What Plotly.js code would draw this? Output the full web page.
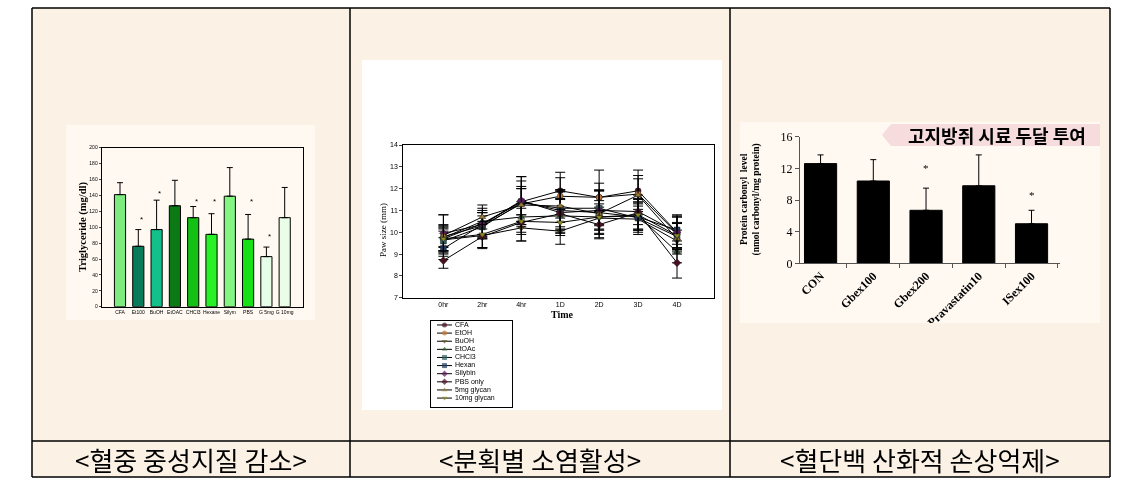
<!DOCTYPE html>
<html><head><meta charset="utf-8">
<script src="https://cdn.plot.ly/plotly-3.0.1.min.js"></script>
<style>html,body{margin:0;padding:0;background:#fff;}#chart{width:1143px;height:481px;}
.main-svg{will-change:transform;}</style>
</head><body><div id="chart"></div>
<script>
// ---------- Panel 1: triglyceride ----------
const tgGroups = ['CFA','Et100','BuOH','EtOAC','CHCl3','Hexane','Silym','PBS','G 5mg','G 10mg'];
const tgMean = [141, 76, 97, 127, 112, 91, 139, 85, 63, 112];
const tgErr = [15, 21, 37, 32, 14, 26, 36, 31, 12, 38];
const tgColors = ['#7DEB7D','#087B5A','#13C08A','#0B7A14','#13C113','#27F127','#82F582','#17E017','#E6FDE8','#EAFDE6'];
const tgStarGroups = ['Et100','BuOH','CHCl3','Hexane','PBS','G 5mg'];
const tgStarY = [110, 143, 132, 132, 132, 88];
const tgTicks = [0,20,40,60,80,100,120,140,160,180,200];

// ---------- Panel 2: paw size ----------
const timeLabels = ['0hr','2hr','4hr','1D','2D','3D','4D'];
const pawNames = ['CFA','EtOH','BuOH','EtOAc','CHCl3','Hexan','Silybin','PBS only','5mg glycan','10mg glycan'];
const pawCFA     = [9.7, 10.4, 11.4, 11.9, 11.6, 11.9, 10.0];
const pawEtOH    = [9.8, 10.3, 11.3, 11.65, 11.6, 11.75, 9.95];
const pawBuOH    = [9.65, 9.85, 10.2, 10.05, 10.65, 10.6, 9.6];
const pawEtOAc   = [9.75, 10.5, 10.7, 10.75, 10.7, 10.75, 9.1];
const pawCHCl3   = [9.6, 10.25, 11.35, 11.1, 11.1, 10.65, 9.8];
const pawHexan   = [9.25, 10.35, 11.4, 11.0, 10.9, 10.7, 10.1];
const pawSilybin = [9.95, 10.35, 11.45, 10.9, 11.0, 10.95, 10.0];
const pawPBS     = [8.7, 9.8, 10.45, 10.85, 10.35, 10.9, 8.6];
const paw5mg     = [9.85, 10.7, 11.25, 11.2, 10.85, 11.7, 9.7];
const paw10mg    = [9.7, 9.9, 10.5, 10.45, 10.7, 10.8, 9.85];
const errCFA     = [0.35, 0.5, 0.6, 0.85, 0.65, 0.95, 0.8];
const errEtOH    = [0.5, 0.6, 0.8, 0.85, 1.25, 0.7, 0.75];
const errBuOH    = [0.5, 0.55, 0.6, 0.6, 0.5, 0.7, 0.5];
const errEtOAc   = [0.6, 0.6, 0.7, 0.75, 0.6, 0.6, 0.5];
const errCHCl3   = [0.6, 0.5, 1.0, 0.85, 0.8, 0.55, 0.6];
const errHexan   = [0.5, 0.65, 1.15, 0.9, 1.0, 0.7, 0.65];
const errSilybin = [0.85, 0.55, 1.1, 0.95, 0.9, 0.6, 0.7];
const errPBS     = [0.35, 0.55, 0.85, 0.7, 0.65, 0.8, 0.7];
const err5mg     = [0.95, 0.55, 0.75, 0.75, 1.1, 0.9, 0.7];
const err10mg    = [0.55, 0.6, 0.6, 0.6, 0.75, 0.7, 0.6];
const pawValues = [pawCFA,pawEtOH,pawBuOH,pawEtOAc,pawCHCl3,pawHexan,pawSilybin,pawPBS,paw5mg,paw10mg];
const pawErrors = [errCFA,errEtOH,errBuOH,errEtOAc,errCHCl3,errHexan,errSilybin,errPBS,err5mg,err10mg];
const pawSymbols = ['circle','circle','triangle-down','triangle-up','square','square','diamond','diamond','triangle-up','triangle-down'];
const pawColors = ['#4a1020','#c07838','#6a5a28','#2a5a2a','#2f5f5f','#1f3a5f','#5a1a5a','#4a1020','#9a7a30','#8a8a20'];
const pawTicks = [7,8,9,10,11,12,13,14];

// ---------- Panel 3: protein carbonyl ----------
const pcGroups = ['CON','Gbex100','Gbex200','Pravastatin10','ISex100'];
const pcMean = [12.6, 10.4, 6.7, 9.8, 5.0];
const pcErr = [1.1, 2.7, 2.8, 3.9, 1.7];
const pcStarGroups = ['Gbex200','ISex100'];
const pcStarY = [12.1, 8.6];
const pcTicks = [0,4,8,12,16];

// ---------- captions ----------
const captions = ['<혈중 중성지질 감소>','<분획별 소염활성>','<혈단백 산화적 손상억제>'];
const bannerText = '고지방쥐 시료 두달 투여';

// ---------- layout helpers (pixel -> paper) ----------
const W = 1143, H = 481;
const X = p => p / W;
const Y = p => 1 - p / H;
const cream = '#FBF2E5';
const serif = 'Liberation Serif, Times New Roman, serif';
const sans = 'Liberation Sans, Arial, sans-serif';
const kr = 'Noto Sans CJK KR, sans-serif';

const traces = [];
traces.push({
  type:'bar', x: tgGroups, y: tgMean, xaxis:'x', yaxis:'y', showlegend:false,
  marker:{color: tgColors, line:{color:'#000', width:1}},
  error_y:{type:'data', symmetric:false, array: tgErr, arrayminus: tgErr.map(()=>0), color:'#000', thickness:1, width:3},
  hoverinfo:'skip'
});
pawNames.forEach((n,i)=>{
  traces.push({
    type:'scatter', mode:'lines+markers', x: timeLabels, y: pawValues[i], xaxis:'x2', yaxis:'y2', name:n, showlegend:false,
    line:{color:'#000', width:1},
    marker:{symbol: pawSymbols[i], color: pawColors[i], size:6, line:{color:'#222', width:0.5}},
    error_y:{type:'data', array: pawErrors[i], color:'#000', thickness:1, width:5},
    hoverinfo:'skip'
  });
});
pawNames.forEach((n,i)=>{
  traces.push({
    type:'scatter', mode:'lines+markers', x:[6,13.5,21], y:[i,i,i], xaxis:'x4', yaxis:'y4', showlegend:false,
    line:{color:'#000', width:1},
    marker:{symbol: pawSymbols[i], color: pawColors[i], size:[0,5,0], line:{width:0}},
    hoverinfo:'skip'
  });
});
traces.push({
  type:'scatter', mode:'text', x: pawNames.map(()=>24), y: pawNames.map((_,i)=>i), text: pawNames,
  textposition:'middle right', textfont:{family:sans, size:7, color:'#000'},
  xaxis:'x4', yaxis:'y4', showlegend:false, hoverinfo:'skip'
});
traces.push({
  type:'bar', x: pcGroups, y: pcMean, xaxis:'x3', yaxis:'y3', showlegend:false,
  marker:{color:'#000', line:{color:'#000', width:1}},
  error_y:{type:'data', symmetric:false, array: pcErr, arrayminus: pcErr.map(()=>0), color:'#000', thickness:1, width:3},
  hoverinfo:'skip'
});

const shapes = [
  {type:'rect', xref:'paper', yref:'paper', x0:X(32), x1:X(1110), y0:Y(477), y1:Y(8), fillcolor:cream, line:{width:0}, layer:'below'},
  {type:'rect', xref:'paper', yref:'paper', x0:X(66), x1:X(315), y0:Y(320), y1:Y(125), fillcolor:'#FFF9F2', line:{width:0}, layer:'below'},
  {type:'rect', xref:'paper', yref:'paper', x0:X(362), x1:X(722), y0:Y(410), y1:Y(60), fillcolor:'#FFFFFF', line:{width:0}, layer:'below'},
  {type:'rect', xref:'paper', yref:'paper', x0:X(740), x1:X(1100), y0:Y(323), y1:Y(122), fillcolor:'#FFF9F2', line:{width:0}, layer:'below'},
  {type:'path', xref:'paper', yref:'paper', layer:'below', fillcolor:'#F6DCDC', line:{width:0},
   path:`M ${X(882)} ${Y(135)} L ${X(891)} ${Y(124)} L ${X(1100)} ${Y(124)} L ${X(1100)} ${Y(146)} L ${X(891)} ${Y(146)} Z`},
  {type:'rect', xref:'paper', yref:'paper', x0:X(733), x1:X(1108), y0:Y(440), y1:Y(323), fillcolor:cream, line:{width:0}, layer:'above'},
];
const lineStyle = {color:'#000', width:1.5};
[[32,8,1110,8],[32,441,1110,441],[32,477,1110,477],[32,8,32,477],[350,8,350,477],[730,8,730,477],[1110,8,1110,477]].forEach(l=>{
  shapes.push({type:'line', xref:'paper', yref:'paper', x0:X(l[0]), y0:Y(l[1]), x1:X(l[2]), y1:Y(l[3]), line:lineStyle, layer:'above'});
});

const annotations = [];
[191, 540, 920].forEach((cx,i)=>{
  annotations.push({xref:'paper', yref:'paper', x:X(cx), y:Y(459), text: captions[i], showarrow:false,
    font:{family:kr, size:26, color:'#000'}, xanchor:'center', yanchor:'middle'});
});
annotations.push({xref:'paper', yref:'paper', x:X(75), y:Y(227), text:'<b>Triglyceride (mg/dl)</b>', textangle:-90, showarrow:false,
  font:{family:serif, size:10.5, color:'#000'}});
tgStarGroups.forEach((g,i)=>{
  annotations.push({xref:'x', yref:'y', x:g, y:tgStarY[i], text:'*', showarrow:false, xshift:3, font:{family:sans, size:8, color:'#000'}});
});
annotations.push({xref:'paper', yref:'paper', x:X(562), y:Y(322), text:'<b>Time</b>', showarrow:false, font:{family:serif, size:10, color:'#000'}});
annotations.push({xref:'paper', yref:'paper', x:X(376), y:Y(230), text:'Paw size (mm)', textangle:-90, showarrow:false, font:{family:serif, size:9, color:'#000'}});
annotations.push({xref:'paper', yref:'paper', x:X(763), y:Y(200), text:'<b>Protein carbonyl  level</b><br><b>(nmol carbonyl/mg protein)</b>', textangle:-90, showarrow:false,
  font:{family:serif, size:9.5, color:'#000'}});
annotations.push({xref:'paper', yref:'paper', x:X(997), y:Y(135), text: bannerText, showarrow:false, xanchor:'center', yanchor:'middle',
  font:{family:kr, size:18, color:'#000', weight:'bold'}});
pcStarGroups.forEach((g,i)=>{
  annotations.push({xref:'x3', yref:'y3', x:g, y:pcStarY[i], text:'*', showarrow:false, font:{family:serif, size:11, color:'#000'}});
});

const layout = {
  width:W, height:H, margin:{l:0,r:0,t:0,b:0}, paper_bgcolor:'#FFFFFF', plot_bgcolor:'rgba(0,0,0,0)',
  showlegend:false, bargap:0.39,
  xaxis:{domain:[X(101.7), X(303)], type:'category', range:[-1,10], showline:true, mirror:true, linecolor:'#000', linewidth:1,
    ticks:'', tickangle:0, tickfont:{family:sans, size:5, color:'#000'}, showgrid:false, zeroline:false, fixedrange:true},
  yaxis:{domain:[Y(306.7), Y(147.7)], range:[0,200], tickvals:tgTicks, showline:true, mirror:true, linecolor:'#000', linewidth:1,
    ticks:'outside', ticklen:2, tickfont:{family:sans, size:5, color:'#000'}, showgrid:false, zeroline:false, fixedrange:true},
  xaxis2:{domain:[X(403.3), X(714)], type:'category', range:[-1.03,6.95], showline:true, mirror:true, linecolor:'#000', linewidth:1,
    ticks:'', tickangle:0, tickfont:{family:sans, size:7, color:'#000'}, showgrid:false, zeroline:false, fixedrange:true, anchor:'y2'},
  yaxis2:{domain:[Y(297.7), Y(145)], range:[7,14], tickvals:pawTicks, showline:true, mirror:true, linecolor:'#000', linewidth:1,
    ticks:'outside', ticklen:3, tickfont:{family:sans, size:7, color:'#000'}, showgrid:false, zeroline:false, fixedrange:true, anchor:'x2'},
  xaxis3:{domain:[X(800), X(1060)], type:'category', range:[-0.39,4.54], showline:true, linecolor:'#555', linewidth:1,
    ticks:'outside', tickson:'boundaries', ticklen:4, tickcolor:'#555', tickangle:-45,
    tickfont:{family:serif, size:12, color:'#000', weight:'bold'}, showgrid:false, zeroline:false, fixedrange:true, anchor:'y3'},
  yaxis3:{domain:[Y(263.3), Y(136.7)], range:[0,16], tickvals:pcTicks, showline:true, linecolor:'#555', linewidth:1,
    ticks:'outside', ticklen:4, tickcolor:'#555', tickfont:{family:serif, size:12, color:'#000'}, showgrid:false, zeroline:false, fixedrange:true, anchor:'x3'},
  xaxis4:{domain:[X(431), X(512)], range:[0,81], showline:true, mirror:true, linecolor:'#000', linewidth:1, showticklabels:false, ticks:'',
    showgrid:false, zeroline:false, fixedrange:true, anchor:'y4'},
  yaxis4:{domain:[Y(407), Y(321)], range:[10.1,-0.49], showline:true, mirror:true, linecolor:'#000', linewidth:1, showticklabels:false, ticks:'',
    showgrid:false, zeroline:false, fixedrange:true, anchor:'x4'},
  shapes: shapes, annotations: annotations
};
Plotly.newPlot('chart', traces, layout, {staticPlot:true, displayModeBar:false});
</script></body></html>
